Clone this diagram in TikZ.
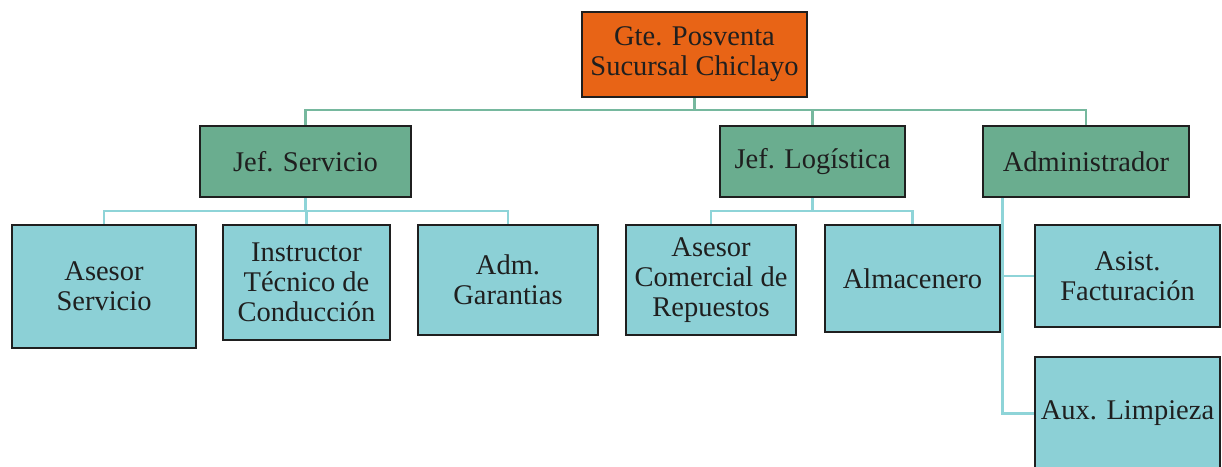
\documentclass[tikz,border=0pt]{standalone}
\usepackage{fontspec}
\setmainfont{Liberation Serif}
\begin{document}
\begin{tikzpicture}[x=1pt,y=-1pt,
  box/.style={draw=black!88, line width=2.6pt, inner sep=0pt, align=center,
    text=black!88, font=\fontsize{28.5}{30}\selectfont},
  boss/.style={box, fill=headorange},
  chief/.style={box, fill=chiefgreen},
  staff/.style={box, fill=staffcyan},
  toplink/.style={draw=linkgreen, line width=2.8pt},
  sublink/.style={draw=linkcyan, line width=2.8pt}]
\definecolor{headorange}{RGB}{232,100,22}
\definecolor{chiefgreen}{RGB}{106,173,143}
\definecolor{staffcyan}{RGB}{140,208,214}
\definecolor{linkgreen}{RGB}{118,184,158}
\definecolor{linkcyan}{RGB}{142,212,216}

\useasboundingbox (0,0) rectangle (1222,466);
\clip (0,0) rectangle (1222,466);
\fill[white] (0,0) rectangle (1222,466);

% top level
\node[boss, minimum width=225pt, minimum height=85pt] (gte) at (694.5,54.5)
  {Gte. Posventa\\Sucursal Chiclayo};

% heads
\node[chief, minimum width=211pt, minimum height=71pt] (jserv) at (305.5,161.5) {Jef. Servicio};
\node[chief, minimum width=185pt, minimum height=71pt] (jlog) at (812.5,161.5) {Jef. Logística};
\node[chief, minimum width=206pt, minimum height=71pt] (admin) at (1086,161.5) {Administrador};

% staff under Jef. Servicio
\node[staff, minimum width=184pt, minimum height=123pt] (aserv) at (104,286.5) {Asesor\\Servicio};
\node[staff, minimum width=167pt, minimum height=115pt] (instr) at (306.5,282.5) {Instructor\\Técnico de\\Conducción};
\node[staff, minimum width=180pt, minimum height=110pt] (garan) at (508,280) {Adm.\\Garantias};

% staff under Jef. Logística
\node[staff, minimum width=170pt, minimum height=110pt] (acom) at (711,280) {Asesor\\Comercial de\\Repuestos};
\node[staff, minimum width=175pt, minimum height=107pt] (almac) at (912.5,278.5) {Almacenero};

% staff under Administrador
\node[staff, minimum width=185pt, minimum height=102pt] (asist) at (1127.5,276) {Asist.\\Facturación};
\node[staff, minimum width=185pt, minimum height=113pt] (aux) at (1127.5,413.5) {Aux. Limpieza};

% connector rails
\coordinate (railA) at (0,110);
\coordinate (railB) at (0,211);
\coordinate (atrunk) at ([xshift=21pt]admin.south west);

\draw[toplink] (gte.south) -- (gte.south |- railA);
\draw[toplink] (jserv.north) -- (jserv.north |- railA) -| (admin.north);
\draw[toplink] (jlog.north) -- (jlog.north |- railA);

\draw[sublink] (jserv.south) -- (jserv.south |- railB);
\draw[sublink] (aserv.north) -- (aserv.north |- railB) -| (garan.north);
\draw[sublink] (instr.north) -- (instr.north |- railB);

\draw[sublink] (jlog.south) -- (jlog.south |- railB);
\draw[sublink] (acom.north) -- (acom.north |- railB) -| (almac.north);

\draw[sublink] (atrunk) |- (aux.west);
\draw[sublink] (atrunk |- asist.west) -- (asist.west);
\end{tikzpicture}
\end{document}
